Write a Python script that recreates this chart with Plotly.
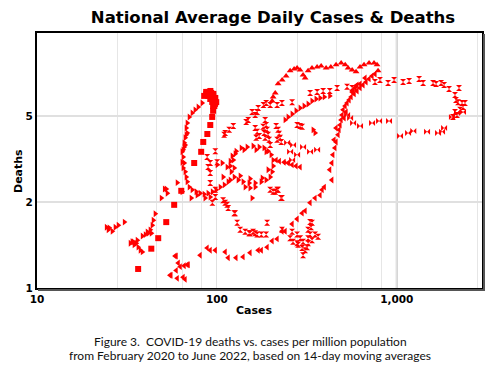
import plotly.graph_objects as go

# ---------------- data (cases per million, deaths per million) ----------------
sq_cases = [36.5, 43.2, 47.2, 52.3, 57.9, 63.4, 74.8, 81.8, 84.0, 88.5, 91.9, 94.2, 95.3, 95.3, 94.2, 91.9,
            89.6, 87.4, 89.6, 93.0, 95.3, 96.5, 91.9, 97.7, 85.0, 87.2, 92.0, 95.6, 98.0, 99.2, 96.8]
sq_deaths = [1.185, 1.42, 1.56, 1.80, 2.10, 2.38, 3.05, 3.37, 3.68, 3.95, 4.28, 4.60, 4.86, 5.07, 5.26, 5.40,
             5.55, 5.65, 5.75, 5.70, 5.55, 5.35, 5.60, 5.17, 5.55, 5.75, 5.80, 5.65, 5.45, 5.25, 5.07]

tr_cases = [82.8, 78.7, 75.7, 72.9, 70.2, 68.4, 67.5, 68.4, 66.6, 65.8, 65.8, 64.1, 64.9, 65.8, 64.9, 66.6,
            67.5, 68.4, 70.2, 72.9, 76.7, 80.7, 85.0, 89.4, 60.2, 64.1, 67.5, 64.9, 64.1, 66.6, 72.0, 77.7,
            86.0, 91.8,
            24.3, 24.9, 25.2, 26.2, 27.2, 28.3, 30.6, 33.0, 34.3, 35.6, 36.1, 36.5, 37.5, 38.5, 34.7, 33.8,
            40.0, 41.0, 42.6, 43.7, 44.3, 45.4, 43.2, 41.5, 49.1, 51.1, 52.3, 53.0, 38.5,
            121.7, 128.0, 136.6, 147.4, 159.1, 171.9, 183.0, 192.8, 200.3, 205.5, 205.5, 202.9, 197.9, 187.9,
            176.4, 163.3, 151.1, 140.0, 131.4, 124.9, 120.2, 118.7, 118.7, 126.4, 141.8, 165.3, 187.9, 192.8,
            178.7, 152.9, 134.8, 124.9, 123.4,
            94.4, 99.1, 104.4, 110.0, 115.6, 100.4, 107.0, 114.1, 108.3, 118.7, 143.7, 152.9, 163.3, 157.0,
            239.5, 249.0, 262.0, 275.7, 290.2, 305.5, 321.6, 338.0, 356.0, 374.8, 395.7, 424.3, 343.0, 351.6]
tr_deaths = [5.21, 5.03, 4.90, 4.77, 4.60, 4.36, 4.17, 3.99, 3.82, 3.65, 3.52, 3.37, 3.22, 3.05, 2.92, 2.82,
             2.69, 2.58, 2.46, 2.40, 2.36, 2.33, 2.31, 2.33, 2.56, 2.36, 3.92, 3.43, 3.07, 3.58, 2.23, 2.29,
             2.23, 2.25,
             1.72, 1.68, 1.71, 1.66, 1.72, 1.75, 1.80, 1.49, 1.51, 1.49, 1.53, 1.44, 1.40, 1.38, 1.47, 1.51,
             1.61, 1.65, 1.68, 1.75, 1.83, 1.94, 1.63, 1.63, 2.23, 2.42, 2.42, 2.33, 1.59,
             3.25, 3.39, 3.49, 3.52, 3.55, 3.52, 3.49, 3.39, 3.28, 3.13, 2.97, 2.82, 2.69, 2.62,
             2.58, 2.55, 2.55, 2.58, 2.62, 2.69, 2.82, 2.97, 3.10, 3.31, 3.43, 3.43, 3.37, 2.87,
             2.67, 2.65, 2.72, 2.92, 3.13,
             2.36, 2.40, 2.46, 2.51, 2.58, 3.00, 3.05, 2.94, 2.69, 2.62, 2.46, 2.44, 2.46, 2.23,
             4.48, 4.60, 4.72, 4.86, 4.98, 5.07, 5.16, 5.30, 5.40, 5.45, 5.50, 5.55, 4.10, 3.99]

tl_cases = [59.4, 61.0, 62.6, 59.4, 55.6, 60.2, 66.6, 68.4, 65.8, 58.6, 54.9, 64.9, 69.3,
            80.7, 88.3, 91.8, 98.0, 111.2, 115.6, 127.7, 139.8, 152.9, 169.7, 190.3, 202.9, 216.3, 230.1,
            262.0, 279.3, 297.8, 309.5, 329.7, 351.6, 374.8, 384.6, 395.7, 435.8, 424.3, 435.8, 441.4,
            453.1, 459.9, 176.7, 239.5,
            471.9, 478.0, 484.2, 490.5, 496.8, 503.3, 516.4, 529.6, 543.4, 557.6, 579.8, 601.8, 625.3,
            649.7, 675.1, 701.7, 729.0, 757.4, 459.9, 509.8, 523.0, 565.0, 594.0, 625.3, 666.6, 448.2,
            572.0, 601.8, 587.0,
            213.5, 222.6, 236.6, 249.0, 262.0, 275.7, 290.2]
tl_deaths = [1.33, 1.25, 1.21, 1.17, 1.12, 1.09, 1.08, 1.23, 1.22, 1.33, 1.12, 1.10, 1.23,
             1.34, 1.43, 1.40, 1.40, 1.38, 1.31, 1.31, 1.32, 1.37, 1.40, 1.44, 1.52, 1.55, 1.66,
             1.77, 1.85, 1.95, 1.99, 2.14, 2.23, 2.29, 2.40, 2.46, 2.62, 2.87, 3.05, 3.28,
             3.49, 3.68, 1.40, 1.66,
             3.92, 4.10, 4.28, 4.48, 4.68, 4.90, 5.07, 5.21, 5.35, 5.50, 5.65, 5.80, 5.96,
             6.12, 6.28, 6.46, 6.63, 6.75, 4.17, 4.56, 4.81, 5.75, 6.07, 6.17, 6.51, 3.75,
             5.85, 6.12, 5.96,
             3.13, 3.10, 3.07, 3.05, 3.00, 2.97, 2.94]

tu_cases = [202.9, 205.5, 211.1, 219.1, 230.6, 242.6, 255.4, 268.9, 279.3, 290.2, 301.5, 309.5, 321.6,
            338.0, 360.8, 380.0, 404.8, 430.2, 459.9, 490.9, 516.9, 536.5, 565.0, 594.0, 625.0, 658.0,
            701.7, 747.6, 777.2, 787.3]
tu_deaths = [5.30, 5.50, 5.70, 6.18, 6.40, 6.63, 6.94, 7.06, 7.12, 7.00, 6.69, 6.51, 6.94,
             7.12, 7.18, 7.25, 7.12, 7.18, 7.32, 7.44, 7.32, 7.12, 7.00, 6.88, 7.18, 7.32,
             7.44, 7.44, 7.32, 6.94]

hg_cases = [190.3, 265.2, 282.9, 301.5, 317.5, 309.5, 297.8, 321.6, 338.0, 329.7, 321.6, 334.0, 329.7,
            338.0, 351.6, 365.5, 301.5, 279.3, 262.0, 230.1, 197.9, 211.1, 219.1, 230.1, 159.0, 176.7,
            187.9, 152.9, 167.5, 255.4, 279.3, 290.7, 321.6, 134.8, 143.7, 151.1, 163.3, 129.7, 126.4,
            114.1, 108.3, 98.0, 94.4, 98.0, 91.8, 91.8, 89.4, 88.3, 91.8, 100.4, 227.1, 216.3, 205.5,
            98.0, 109.7, 111.2, 117.1, 123.4, 145.5, 149.3, 163.3, 169.7, 181.5, 187.9, 197.9, 216.3,
            230.1, 262.0, 329.7, 360.8, 389.6, 424.3, 465.9, 529.6, 565.0, 757.0, 807.0, 894.8, 966.0,
            1084, 1171, 1331, 1401, 1592, 1654, 1764, 1834, 1953, 2219, 2108, 2135, 2191, 2306, 2396,
            2336, 2250, 2108, 2054, 2163,
            185.5, 187.9, 190.3, 192.8, 195.3, 197.9, 180.8, 183.2, 185.5, 163.3, 167.5, 171.9, 165.3,
            213.5, 219.1, 222.0, 224.9, 227.8, 216.3, 279.3, 290.2, 297.8, 157.0, 167.5,
            111.2, 115.6, 124.9]
hg_deaths = [1.79, 1.51, 1.47, 1.51, 1.44, 1.40, 1.43, 1.56, 1.53, 1.61, 1.68, 1.72, 1.80,
             1.79, 1.61, 1.58, 1.34, 1.61, 1.65, 1.68, 2.40, 2.36, 2.40, 2.23, 1.65, 1.61,
             1.61, 1.63, 1.61, 1.56, 1.49, 1.56, 1.49, 1.68, 1.65, 1.63, 1.63, 1.79, 1.95,
             2.10, 2.19, 2.25, 2.14, 2.40, 2.55, 2.79, 2.94, 3.22, 3.05, 3.07, 2.23, 2.40, 2.36,
             3.39, 3.92, 3.99, 4.10, 4.24, 4.40, 4.48, 4.68, 4.98, 5.12, 5.21, 5.12, 5.12,
             5.21, 5.25, 5.70, 5.75, 5.80, 5.80, 5.96, 6.02, 5.96, 6.28, 6.40, 6.23, 6.40,
             6.28, 6.34, 6.46, 6.23, 6.23, 6.17, 6.23, 6.12, 5.90, 5.96, 5.60, 5.35, 5.25, 5.21, 5.21,
             5.03, 4.90, 4.81, 4.60, 4.68,
             4.48, 4.28, 4.10, 3.92, 3.75, 3.58, 4.21, 3.99, 3.82, 4.17, 4.03, 3.88, 3.82,
             4.24, 4.10, 3.96, 3.82, 3.68, 3.75, 4.28, 4.24, 4.21, 4.81, 4.81,
             2.14, 2.04, 1.95]

bt_cases = [529.6, 550.5, 572.0, 625.0, 729.0, 797.5, 906.0, 1043, 1156, 1236, 1474, 1697, 1786, 1833,
            2027, 2163, 2336, 245.8, 265.2, 301.5, 329.7, 360.8, 255.4, 279.3, 245.8, 262.0]
bt_deaths = [4.68, 4.56, 4.36, 4.24, 4.36, 4.44, 4.44, 3.88, 3.99, 4.06, 4.03, 3.99, 4.03, 4.17,
             4.60, 4.77, 4.81, 3.65, 3.58, 3.52, 3.37, 3.43, 3.37, 3.28, 3.07, 3.13]

x_major = [10, 100, 1000]
x_major_text = ["10", "100", "1,000"]
x_minor = [28, 46, 64, 82, 280, 460, 640, 820, 2800]
y_ticks = [1, 10 ** (1 / 3), 10 ** (2 / 3)]
y_tick_text = ["1", "2", "5"]

RED = "#ff0000"

fig = go.Figure()


def add(xs, ys, sym, size):
    fig.add_trace(go.Scatter(x=xs, y=ys, mode="markers", hoverinfo="skip",
                             marker=dict(symbol=sym, size=size, color=RED, line=dict(width=0))))


add(tl_cases, tl_deaths, "triangle-left", 6)
add(tr_cases, tr_deaths, "triangle-right", 6)
add(tu_cases, tu_deaths, "triangle-up", 6)
add(hg_cases, hg_deaths, "hourglass", 6)
add(bt_cases, bt_deaths, "bowtie", 6)
add(sq_cases, sq_deaths, "square", 6)

XR = [1, 3.474]
YR = [0, 0.988]

fig.update_layout(
    width=500, height=381,
    margin=dict(l=29, r=26, t=25, b=101),
    paper_bgcolor="white", plot_bgcolor="white",
    showlegend=False,
    title=dict(text="National Average Daily Cases & Deaths", x=265 / 500, xanchor="center",
               y=1 - 9.5 / 381, yanchor="middle",
               font=dict(family="DejaVu Sans", size=16.5, color="black", weight="bold")),
    xaxis=dict(type="log", range=XR, tickmode="array", tickvals=x_major, ticktext=x_major_text,
               showgrid=True, gridcolor="#e0e0e0", gridwidth=1,
               minor=dict(tickmode="array", tickvals=x_minor, showgrid=True, gridcolor="#e6e6e6",
                          gridwidth=1, ticks=""),
               showline=True, linecolor="black", linewidth=2, mirror=True, ticks="",
               zeroline=False,
               tickfont=dict(family="DejaVu Sans", size=10.5, color="black", weight="bold")),
    yaxis=dict(type="log", range=YR, tickmode="array", tickvals=y_ticks, ticktext=y_tick_text,
               showgrid=True, gridcolor="#e0e0e0", gridwidth=1.5,
               showline=True, linecolor="black", linewidth=2, mirror=True, ticks="",
               zeroline=False,
               tickfont=dict(family="DejaVu Sans", size=10.5, color="black", weight="bold")),
)

# darker 1,000 gridline and frame shadow (paper coords)
x1000 = (3 - XR[0]) / (XR[1] - XR[0])
fig.add_shape(type="line", xref="paper", yref="paper", x0=x1000, x1=x1000, y0=0, y1=1,
              line=dict(color="#c8c8c8", width=2), layer="below")
fig.add_shape(type="line", xref="paper", yref="paper", x0=1 + 2 / 445, x1=1 + 2 / 445,
              y0=-2 / 255, y1=1 - 1 / 255, line=dict(color="#555555", width=2))
fig.add_shape(type="line", xref="paper", yref="paper", x0=1 / 445, x1=1 + 3 / 445,
              y0=-2 / 255, y1=-2 / 255, line=dict(color="#555555", width=2))

fig.add_annotation(text="Cases", xref="paper", yref="paper", x=(254 - 37) / 445, y=(288 - 310) / 255,
                   showarrow=False, xanchor="center", yanchor="middle",
                   font=dict(family="DejaVu Sans", size=11, color="black", weight="bold"))
fig.add_annotation(text="Deaths", xref="paper", yref="paper", x=(18 - 37) / 445, y=(288 - 171) / 255,
                   showarrow=False, xanchor="center", yanchor="middle", textangle=-90,
                   font=dict(family="DejaVu Sans", size=11, color="black", weight="bold"))
fig.add_annotation(text="Figure 3.\u00a0 COVID-19 deaths vs. cases per million population",
                   xref="paper", yref="paper", x=(250 - 37) / 445, y=(288 - 341) / 255,
                   showarrow=False, xanchor="center", yanchor="middle",
                   font=dict(family="Lato", size=12, color="#111111"))
fig.add_annotation(text="from February 2020 to June 2022, based on 14-day moving averages",
                   xref="paper", yref="paper", x=(250 - 37) / 445, y=(288 - 355) / 255,
                   showarrow=False, xanchor="center", yanchor="middle",
                   font=dict(family="Lato", size=12, color="#111111"))

fig.write_html("out.html")
